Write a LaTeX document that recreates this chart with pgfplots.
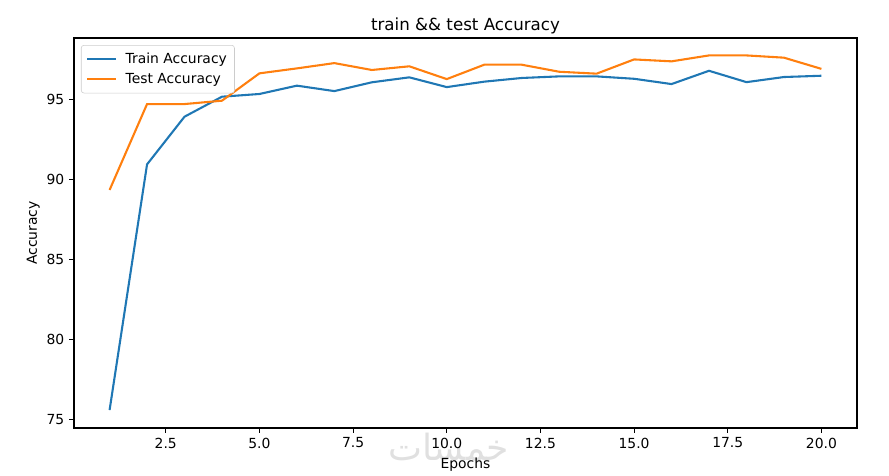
\documentclass[border=0pt]{standalone}
\usepackage{pgfplots}
\pgfplotsset{compat=1.18}
\usepackage{fontspec}
\setmainfont{DejaVu Sans}
\newfontfamily\arabicfont[Script=Arabic]{DejaVu Sans}
\TeXXeTstate=1
\definecolor{mplblue}{HTML}{1F77B4}
\definecolor{mplorange}{HTML}{FF7F0E}
\begin{document}
\begin{tikzpicture}
\path (-53.28pt,-30.24pt) rectangle (586.8pt,308.16pt);
\node[text=black!12, font=\fontsize{26}{30}\selectfont\arabicfont] at (270pt,-14pt) {\beginR خمسات\endR};
\begin{axis}[
  at={(0pt,0pt)}, anchor=south west,
  scale only axis,
  width=563.76pt, height=280.8pt,
  xmin=0.05, xmax=20.95,
  ymin=74.48, ymax=98.86,
  xtick={2.5,5,7.5,10,12.5,15,17.5,20},
  ytick={75,80,85,90,95},
  xticklabel style={/pgf/number format/.cd,fixed,fixed zerofill,precision=1},
  /pgf/number format/assume math mode=true,
  tick label style={font=\fontsize{10}{12}\selectfont},
  tick align=outside,
  tick pos=left,
  major tick length=3.5pt,
  every tick/.style={black, line width=0.8pt},
  axis line style={line width=0.8pt},
  title={train \&\& test Accuracy},
  title style={font=\fontsize{12}{14}\selectfont, yshift=-6.3pt},
  xlabel={Epochs},
  ylabel={Accuracy},
  ylabel style={yshift=-2pt},
  label style={font=\fontsize{10}{12}\selectfont},
  legend cell align=left,
  legend style={at={(0.0089,0.982)}, anchor=north west, draw=black!20, rounded corners=2pt, fill=white, font=\fontsize{10}{12}\selectfont, inner xsep=3.5pt, inner ysep=3.5pt, row sep=1.5pt},
  legend image code/.code={\draw[#1] (0pt,0pt) -- (21pt,0pt); \path (25pt,0pt);},
]
\addplot[mplblue, line width=1.5pt] coordinates {
(1,75.6) (2,90.96) (3,93.94) (4,95.19) (5,95.36) (6,95.88) (7,95.54) (8,96.09) (9,96.4) (10,95.79)
(11,96.13) (12,96.36) (13,96.46) (14,96.46) (15,96.31) (16,95.98) (17,96.81) (18,96.1) (19,96.42) (20,96.5)
};
\addlegendentry{Train Accuracy}
\addplot[mplorange, line width=1.5pt] coordinates {
(1,89.36) (2,94.73) (3,94.73) (4,94.94) (5,96.65) (6,96.96) (7,97.29) (8,96.86) (9,97.09) (10,96.29)
(11,97.19) (12,97.19) (13,96.75) (14,96.63) (15,97.52) (16,97.4) (17,97.77) (18,97.77) (19,97.63) (20,96.93)
};
\addlegendentry{Test Accuracy}
\end{axis}
\end{tikzpicture}
\end{document}
